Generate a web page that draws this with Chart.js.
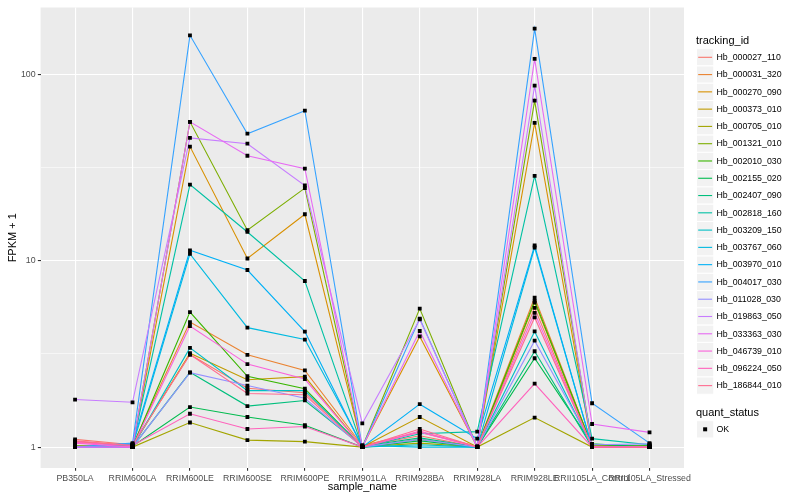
<!DOCTYPE html>
<html><head><meta charset="utf-8">
<script src="https://cdn.jsdelivr.net/npm/chart.js@4"></script>
<style>
html,body{margin:0;padding:0;background:#fff;}
#wrap{position:relative;width:800px;height:500px;font-family:"Liberation Sans",Arial,sans-serif;overflow:hidden;}
#c{position:absolute;left:0;top:0;}
.lg{position:absolute;color:#000;white-space:nowrap;}
</style></head><body>
<div id="wrap"><canvas id="c" width="800" height="500"></canvas><div id="legend"></div></div>
<script>
const categories = ["PB350LA","RRIM600LA","RRIM600LE","RRIM600SE","RRIM600PE","RRIM901LA","RRIM928BA","RRIM928LA","RRIM928LE","RRII105LA_Control","RRII105LA_Stressed"];
const trackingIds = ["Hb_000027_110","Hb_000031_320","Hb_000270_090","Hb_000373_010","Hb_000705_010","Hb_001321_010","Hb_002010_030","Hb_002155_020","Hb_002407_090","Hb_002818_160","Hb_003209_150","Hb_003767_060","Hb_003970_010","Hb_004017_030","Hb_011028_030","Hb_019863_050","Hb_033363_030","Hb_046739_010","Hb_096224_050","Hb_186844_010"];
const lineColors = ["#F8766D","#EA8331","#D89000","#C09B00","#A3A500","#7CAE00","#39B600","#00BB4E","#00BF7D","#00C1A3","#00BFC4","#00BAE0","#00B0F6","#35A2FF","#9590FF","#C77CFF","#E76BF3","#FA62DB","#FF62BC","#FF6C91"];
const quantStatus = ["OK"];
const yMajorTicks = [1, 10, 100];
const yMinorTicks = [3.162, 31.62];

// FPKM + 1 values, one array per tracking_id, in category order
const hb_000027_110 = [1.10, 1.03, 3.14, 2.07, 1.96, 1.01, 1.15, 1.00, 5.59, 1.00, 1.00];
const hb_000031_320 = [1.07, 1.02, 4.69, 3.13, 2.58, 1.02, 1.20, 1.01, 6.35, 1.01, 1.01];
const hb_000270_090 = [1.00, 1.00, 41.1, 10.3, 17.8, 1.00, 3.93, 1.00, 55.1, 1.00, 1.00];
const hb_000373_010 = [1.02, 1.01, 3.19, 2.30, 2.39, 1.00, 1.45, 1.00, 5.97, 1.02, 1.00];
const hb_000705_010 = [1.00, 1.00, 1.355, 1.09, 1.07, 1.00, 1.05, 1.00, 1.44, 1.00, 1.00];
const hb_001321_010 = [1.00, 1.00, 55.8, 14.6, 24.6, 1.00, 5.54, 1.00, 72.6, 1.03, 1.00];
const hb_002010_030 = [1.01, 1.00, 5.31, 2.40, 2.06, 1.00, 1.10, 1.00, 6.10, 1.01, 1.02];
const hb_002155_020 = [1.00, 1.01, 1.64, 1.45, 1.31, 1.00, 1.08, 1.00, 3.00, 1.04, 1.00];
const hb_002407_090 = [1.00, 1.00, 2.52, 1.66, 1.78, 1.01, 1.12, 1.00, 3.27, 1.00, 1.01];
const hb_002818_160 = [1.00, 1.02, 25.7, 14.3, 7.8, 1.00, 1.18, 1.21, 28.6, 1.11, 1.03];
const hb_003209_150 = [1.01, 1.00, 3.41, 2.01, 2.01, 1.00, 1.03, 1.00, 4.18, 1.00, 1.00];
const hb_003767_060 = [1.00, 1.01, 10.9, 4.38, 3.78, 1.02, 1.00, 1.00, 11.8, 1.00, 1.00];
const hb_003970_010 = [1.00, 1.04, 11.4, 8.93, 4.17, 1.00, 1.70, 1.11, 12.1, 1.00, 1.00];
const hb_004017_030 = [1.00, 1.05, 162.7, 48.2, 64.1, 1.00, 4.90, 1.00, 176.8, 1.72, 1.05];
const hb_011028_030 = [1.00, 1.00, 2.51, 2.14, 1.83, 1.00, 1.10, 1.00, 3.73, 1.03, 1.04];
const hb_019863_050 = [1.80, 1.74, 45.8, 42.6, 25.4, 1.34, 4.85, 1.00, 87.3, 1.00, 1.00];
const hb_033363_030 = [1.00, 1.00, 55.8, 36.7, 31.3, 1.00, 4.20, 1.00, 121.6, 1.33, 1.20];
const hb_046739_010 = [1.05, 1.00, 4.47, 2.79, 2.32, 1.00, 1.20, 1.00, 5.26, 1.00, 1.00];
const hb_096224_050 = [1.06, 1.02, 1.51, 1.25, 1.29, 1.00, 1.22, 1.00, 2.19, 1.00, 1.00];
const hb_186844_010 = [1.08, 1.02, 3.14, 1.94, 1.91, 1.00, 1.25, 1.00, 4.97, 1.00, 1.00];

const seriesValues = [hb_000027_110, hb_000031_320, hb_000270_090, hb_000373_010, hb_000705_010,
  hb_001321_010, hb_002010_030, hb_002155_020, hb_002407_090, hb_002818_160, hb_003209_150,
  hb_003767_060, hb_003970_010, hb_004017_030, hb_011028_030, hb_019863_050, hb_033363_030,
  hb_046739_010, hb_096224_050, hb_186844_010];

const FONT = '"Liberation Sans", Arial, sans-serif';

const lineSets = trackingIds.map((id, i) => ({
  type: 'line', label: id,
  data: seriesValues[i].map((v, j) => ({x: j, y: v})),
  borderColor: lineColors[i], backgroundColor: lineColors[i],
  borderWidth: 1.1, pointRadius: 0, pointHoverRadius: 0, fill: false, tension: 0,
  order: 100 - i
}));
const pointSet = {
  type: 'scatter', label: quantStatus[0],
  data: seriesValues.flatMap(s => s.map((v, j) => ({x: j, y: v}))),
  pointStyle: 'rect', pointRadius: 2.7, pointHoverRadius: 2.7,
  backgroundColor: '#000', borderColor: '#000', borderWidth: 0, showLine: false, order: 0
};

const KEY_X = 696.5, KEY = 17.28, ROW0 = 57.3, OK_Y = 429.3;

const panelBg = {
  id: 'panelBg',
  beforeDraw(chart) {
    const {ctx, chartArea: a} = chart;
    ctx.save(); ctx.fillStyle = '#EBEBEB';
    ctx.fillRect(a.left, a.top, a.right - a.left, a.bottom - a.top);
    ctx.restore();
  },
  afterDraw(chart) {
    // ggplot-style legend keys
    const ctx = chart.ctx;
    ctx.save();
    const drawKey = yc => {
      ctx.fillStyle = '#F2F2F2';
      ctx.fillRect(KEY_X, yc - KEY / 2, KEY, KEY);
      ctx.strokeStyle = '#FFFFFF'; ctx.lineWidth = 1;
      ctx.strokeRect(KEY_X, yc - KEY / 2, KEY, KEY);
    };
    trackingIds.forEach((id, i) => {
      const yc = ROW0 + KEY * i;
      drawKey(yc);
      ctx.strokeStyle = lineColors[i]; ctx.lineWidth = 1.1;
      ctx.beginPath();
      ctx.moveTo(KEY_X + 1.7, yc); ctx.lineTo(KEY_X + KEY - 1.7, yc);
      ctx.stroke();
    });
    drawKey(OK_Y);
    ctx.fillStyle = '#000';
    ctx.fillRect(KEY_X + KEY / 2 - 2, OK_Y - 2, 4, 4);
    ctx.restore();
  }
};

const isMajor = v => yMajorTicks.some(t => Math.abs(t - v) < 1e-9);

new Chart(document.getElementById('c'), {
  type: 'line',
  data: {datasets: [...lineSets, pointSet]},
  plugins: [panelBg],
  options: {
    responsive: false, animation: false,
    layout: {padding: {left: 0, right: 116, top: 5, bottom: 0}},
    plugins: {legend: {display: false}, tooltip: {enabled: false}},
    events: [],
    scales: {
      x: {
        type: 'linear', min: -0.6, max: 10.6, bounds: 'data',
        afterBuildTicks: s => { s.ticks = categories.map((c, i) => ({value: i})); },
        afterFit: s => { s.height = 32; },
        ticks: {autoSkip: false, maxRotation: 0, minRotation: 0, padding: 2.2, color: '#4D4D4D',
          font: {family: FONT, size: 8.8}, callback: v => categories[v]},
        grid: {color: '#FFFFFF', lineWidth: 1.1, tickLength: 2.75, tickColor: '#333333', tickWidth: 1.1},
        border: {display: false},
        title: {display: true, text: 'sample_name', color: '#000', font: {family: FONT, size: 11}, padding: {top: 0, bottom: 6}}
      },
      y: {
        type: 'logarithmic', min: 0.772, max: 229.6, bounds: 'data',
        afterBuildTicks: s => { s.ticks = [...yMajorTicks, ...yMinorTicks].sort((a, b) => a - b).map(v => ({value: v})); },
        afterFit: s => { s.width = 40.6; },
        ticks: {padding: 2.2, color: '#4D4D4D', font: {family: FONT, size: 8.8},
          callback: v => isMajor(v) ? String(v) : ''},
        grid: {color: '#FFFFFF',
          lineWidth: c => (c.tick && isMajor(c.tick.value)) ? 1.1 : 0.55,
          tickLength: 2.75,
          tickColor: c => (c.tick && isMajor(c.tick.value)) ? '#333333' : 'rgba(0,0,0,0)',
          tickWidth: 1.1},
        border: {display: false},
        title: {display: true, text: 'FPKM + 1', color: '#000', font: {family: FONT, size: 11}, padding: {top: 6.4, bottom: 0}}
      }
    }
  }
});

// legend text (real text)
const lg = document.getElementById('legend');
function addText(txt, x, yc, size) {
  const d = document.createElement('div');
  d.className = 'lg'; d.textContent = txt;
  d.style.left = x + 'px'; d.style.top = (yc - size * 0.6) + 'px';
  d.style.fontSize = size + 'px'; d.style.lineHeight = (size * 1.2) + 'px';
  lg.appendChild(d);
}
addText('tracking_id', 696, 40.7, 11);
trackingIds.forEach((id, i) => addText(id, 716.5, ROW0 + KEY * i, 8.8));
addText('quant_status', 696, 412.7, 11);
addText(quantStatus[0], 716.5, OK_Y, 8.8);
</script>
</body></html>
